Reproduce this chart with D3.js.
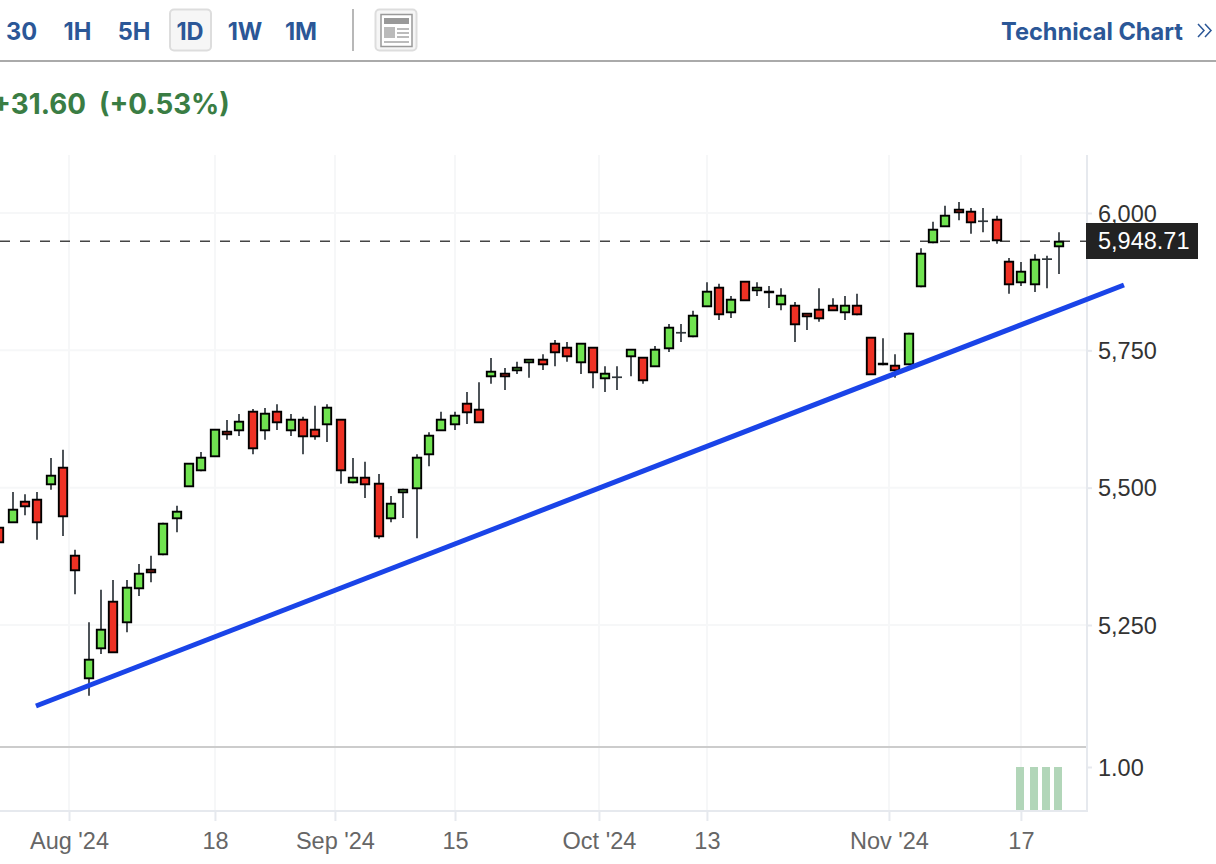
<!DOCTYPE html>
<html lang="en">
<head>
<meta charset="UTF-8">
<title>S&amp;P 500 daily chart</title>
<script src="https://d3js.org/d3.v7.min.js"></script>
<style>
    body { margin: 0; background: #fff; }
    svg { display: block; font-family: 'Liberation Sans', Arial, sans-serif; }
    .menu { font-family: Inter, 'Liberation Sans', sans-serif; font-weight: 700; font-size: 23.6px; fill: #2b5797; }
    .change { font-family: Inter, 'Liberation Sans', sans-serif; font-weight: 700; font-size: 27.8px; fill: #3a7d44; }
    .axis text { font-size: 23.5px; }
    .axis path { display: none; }
</style>
</head>
<body>
<div id="chart"></div>
<script>
// daily candles, 25 Jul 2024 to 22 Nov 2024
const opens = [5428,5436,5476,5479,5505,5538,5377,5152,5206,5294,5254,5315,5352,5377,5443,5501,5530,5556,5603,5603,5640,5603,5640,5603,5625,5607,5614,5625,5508,5519,5508,5443,5490,5498,5559,5603,5614,5654,5643,5701,5709,5712,5727,5734,5763,5756,5727,5756,5698,5701,5738,5738,5720,5752,5782,5774,5829,5865,5818,5876,5858,5858,5833,5833,5818,5825,5833,5818,5833,5774,5727,5723,5723,5865,5945,5975,6007,6004,5985,5989,5913,5873,5869,5916,5938];
const highs = [5428,5492,5488,5492,5554,5569,5387,5255,5314,5332,5332,5361,5376,5436,5467,5545,5565,5607,5623,5634,5643,5645,5652,5634,5629,5649,5652,5625,5554,5547,5525,5485,5498,5561,5601,5638,5638,5674,5692,5736,5718,5729,5734,5743,5769,5765,5763,5756,5721,5721,5752,5738,5758,5798,5798,5822,5874,5871,5849,5876,5874,5867,5863,5838,5818,5863,5845,5849,5853,5774,5772,5743,5782,5936,5984,6013,6020,6009,6009,5995,5918,5911,5925,5922,5965];
const lows = [5399,5436,5450,5405,5496,5412,5306,5121,5197,5199,5237,5303,5328,5377,5419,5501,5530,5556,5587,5594,5561,5587,5605,5594,5561,5587,5583,5507,5508,5481,5407,5437,5445,5408,5539,5603,5605,5616,5618,5689,5678,5707,5700,5714,5721,5729,5707,5681,5674,5678,5703,5689,5720,5747,5765,5774,5829,5805,5809,5840,5849,5827,5823,5765,5787,5802,5822,5805,5814,5705,5723,5700,5723,5865,5945,5975,5987,5962,5965,5944,5853,5867,5856,5863,5889];
const closes = [5399,5461,5465,5436,5523,5447,5348,5188,5243,5199,5319,5345,5345,5436,5457,5545,5556,5607,5596,5621,5570,5636,5618,5625,5592,5592,5647,5530,5519,5505,5410,5472,5498,5556,5596,5625,5632,5636,5618,5712,5701,5720,5734,5723,5745,5738,5763,5709,5709,5701,5752,5694,5752,5792,5782,5814,5858,5814,5843,5840,5865,5855,5851,5796,5811,5807,5822,5833,5814,5705,5723,5712,5782,5927,5971,5996,6000,5982,5985,5949,5869,5894,5916,5916,5949];

const priceTicks = [5250, 5500, 5750, 6000];
const lastPrice = 5948.71;

// bottom pane
const signalIndex = [81, 82, 83, 84];
const signalValues = [1, 1, 1, 1];

// time labels sit between candles, so positions are fractional candle numbers
const timeTicks = [5.48, 17.05, 26.56, 36.08, 47.49, 56.05, 70.48, 80.94];
const timeLabels = ["Aug '24", "18", "Sep '24", "15", "Oct '24", "13", "Nov '24", "17"];

// drawn trend line: [candle number, price]
const trendLine = [[2.86, 5102.5], [89.11, 5869]];

const intervals = ["30", "1H", "5H", "1D", "1W", "1M"];
const intervalPos = [21.5, 77.5, 134, 190, 245, 301];

const width = 1216, height = 864;
const plotRight = 1087, plotTop = 155, plotBottom = 811;

const svg = d3.select("#chart").append("svg")
    .attr("width", width)
    .attr("height", height);

const x = d3.scaleLinear().domain([0, 84]).range([-0.115, 1059.5]);
const y = d3.scaleLinear().domain([5250, 6000]).range([625, 213]);
const ySignal = d3.scaleLinear().domain([0, 1]).range([plotBottom - 1, 767]);

// snaps candles to whole pixels so the wicks stay sharp
const px = i => Math.round((x(i) - 1) / 2) * 2 + 1;

// header
svg.append("rect").attr("x", 170).attr("y", 9.5).attr("width", 41).attr("height", 41).attr("rx", 4)
    .attr("fill", "#f6f6f6").attr("stroke", "#dddddd").attr("stroke-width", 2);
svg.selectAll(".interval").data(intervals).join("text")
    .attr("class", "menu interval")
    .attr("x", (d, i) => intervalPos[i])
    .attr("y", 40)
    .attr("text-anchor", "middle")
    .text(d => d);
svg.append("line").attr("x1", 353).attr("x2", 353).attr("y1", 9).attr("y2", 51)
    .attr("stroke", "#b8b8b8").attr("stroke-width", 2);

const icon = svg.append("g");
icon.append("rect").attr("x", 375.5).attr("y", 9.5).attr("width", 41).attr("height", 41).attr("rx", 4)
    .attr("fill", "#f6f6f6").attr("stroke", "#dddddd").attr("stroke-width", 2);
icon.append("rect").attr("x", 381).attr("y", 14.5).attr("width", 31).attr("height", 32)
    .attr("fill", "#fff").attr("stroke", "#999").attr("stroke-width", 1.5);
icon.append("rect").attr("x", 384).attr("y", 18).attr("width", 25).attr("height", 6).attr("fill", "#999");
icon.append("rect").attr("x", 384).attr("y", 27).attr("width", 11).attr("height", 11).attr("fill", "#bbb");
[28, 32, 36].forEach(v => icon.append("rect").attr("x", 397).attr("y", v).attr("width", 12).attr("height", 2).attr("fill", "#bbb"));
icon.append("rect").attr("x", 384).attr("y", 41).attr("width", 25).attr("height", 2).attr("fill", "#bbb");

svg.append("text").attr("class", "menu").attr("x", 1001).attr("y", 40).text("Technical Chart");
svg.append("path").attr("d", "M1198 24l6 6.500-6 6.500M1205 24l6 6.500-6 6.500")
    .attr("fill", "none").attr("stroke", "#2b5797").attr("stroke-width", 1.5);
svg.append("line").attr("x1", 0).attr("x2", width).attr("y1", 61).attr("y2", 61)
    .attr("stroke", "#aaaaaa").attr("stroke-width", 2);

// the plus sign runs off the left edge, as it does in the original screenshot
svg.append("text").attr("class", "change").attr("x", 86).attr("y", 114).attr("text-anchor", "end")
    .text("+31.60");
svg.append("text").attr("class", "change").attr("x", 99).attr("y", 114).text("(+0.53%)");

// grid
svg.append("g").selectAll("line").data(priceTicks).join("line")
    .attr("x1", 0).attr("x2", plotRight)
    .attr("y1", d => y(d)).attr("y2", d => y(d))
    .attr("stroke", "#f6f7f8").attr("stroke-width", 2);
svg.append("g").selectAll("line").data(timeTicks).join("line")
    .attr("x1", d => x(d)).attr("x2", d => x(d))
    .attr("y1", plotTop).attr("y2", plotBottom)
    .attr("stroke", "#f6f7f8").attr("stroke-width", 2);

// pane borders
svg.append("line").attr("x1", 0).attr("x2", plotRight).attr("y1", 747).attr("y2", 747)
    .attr("stroke", "#cccccc").attr("stroke-width", 2);
svg.append("line").attr("x1", plotRight).attr("x2", plotRight).attr("y1", plotTop).attr("y2", plotBottom + 1)
    .attr("stroke", "#e6e9ee").attr("stroke-width", 2);
svg.append("line").attr("x1", 0).attr("x2", plotRight).attr("y1", plotBottom).attr("y2", plotBottom)
    .attr("stroke", "#e6e9ee").attr("stroke-width", 2);

// axes
const priceAxis = svg.append("g").attr("class", "axis").attr("transform", `translate(${plotRight},0)`)
    .call(d3.axisRight(y).tickValues(priceTicks).tickFormat(d3.format(",")).tickSize(5).tickPadding(6));
const signalAxis = svg.append("g").attr("class", "axis").attr("transform", `translate(${plotRight},0)`)
    .call(d3.axisRight(ySignal).tickValues([1]).tickFormat(d3.format(".2f")).tickSize(5).tickPadding(6));
const timeAxis = svg.append("g").attr("class", "axis").attr("transform", `translate(0,${plotBottom})`)
    .call(d3.axisBottom(x).tickValues(timeTicks).tickFormat((d, i) => timeLabels[i]).tickSize(10).tickPadding(11));

[priceAxis, signalAxis].forEach(a => {
    a.selectAll("line").attr("stroke", "#e6e9ee").attr("stroke-width", 2);
    a.selectAll("text").attr("fill", "#333333").attr("dy", "0.34em");
});
timeAxis.selectAll("line").attr("stroke", "#e6e9ee").attr("stroke-width", 2);
timeAxis.selectAll("text").attr("fill", "#666666");

// last price line goes behind the candles
svg.append("line").attr("x1", 0).attr("x2", plotRight)
    .attr("y1", y(lastPrice)).attr("y2", y(lastPrice))
    .attr("stroke", "#444444").attr("stroke-width", 1.5).attr("stroke-dasharray", "10,10");

// candles
const candles = svg.append("g").selectAll("g").data(opens).join("g");

candles.append("line")
    .attr("x1", (d, i) => px(i)).attr("x2", (d, i) => px(i))
    .attr("y1", (d, i) => y(highs[i])).attr("y2", (d, i) => y(lows[i]))
    .attr("stroke", "#2f363b").attr("stroke-width", 1.7);

candles.each(function (open, i) {
    const g = d3.select(this);
    const close = closes[i];
    if (open === close) {
        g.append("line")
            .attr("x1", px(i) - 5).attr("x2", px(i) + 5)
            .attr("y1", y(open)).attr("y2", y(open))
            .attr("stroke", "#2f363b").attr("stroke-width", 1.7);
        return;
    }
    // the values read are the outer edges of the body, so pull in by about half the stroke
    const top = Math.round(y(Math.max(open, close))) + 0.7;
    const bottom = Math.round(y(Math.min(open, close))) - 0.7;
    g.append("rect")
        .attr("x", px(i) - 4.2)
        .attr("y", top)
        .attr("width", 8.4)
        .attr("height", Math.max(bottom - top, 0.5))
        .attr("fill", close > open ? "#70e350" : "#ee3124")
        .attr("stroke", "#000")
        .attr("stroke-width", 1.9);
});

// trend line
svg.append("path")
    .attr("d", d3.line().x(d => x(d[0])).y(d => y(d[1]))(trendLine))
    .attr("fill", "none")
    .attr("stroke", "#1a44e8")
    .attr("stroke-width", 5);

// bottom pane bars
svg.append("g").selectAll("rect").data(signalValues).join("rect")
    .attr("x", (d, i) => px(signalIndex[i]) - 5)
    .attr("y", d => ySignal(d))
    .attr("width", 8)
    .attr("height", d => ySignal(0) - ySignal(d))
    .attr("fill", "#b2d6b9");

// last price label
svg.append("rect").attr("x", 1086).attr("y", 223).attr("width", 112).attr("height", 36).attr("fill", "#222222");
svg.append("text").attr("x", 1098).attr("y", y(lastPrice)).attr("dy", "0.34em")
    .attr("fill", "#ffffff").style("font-size", "23.5px")
    .text(d3.format(",.2f")(lastPrice));
</script>
</body>
</html>
